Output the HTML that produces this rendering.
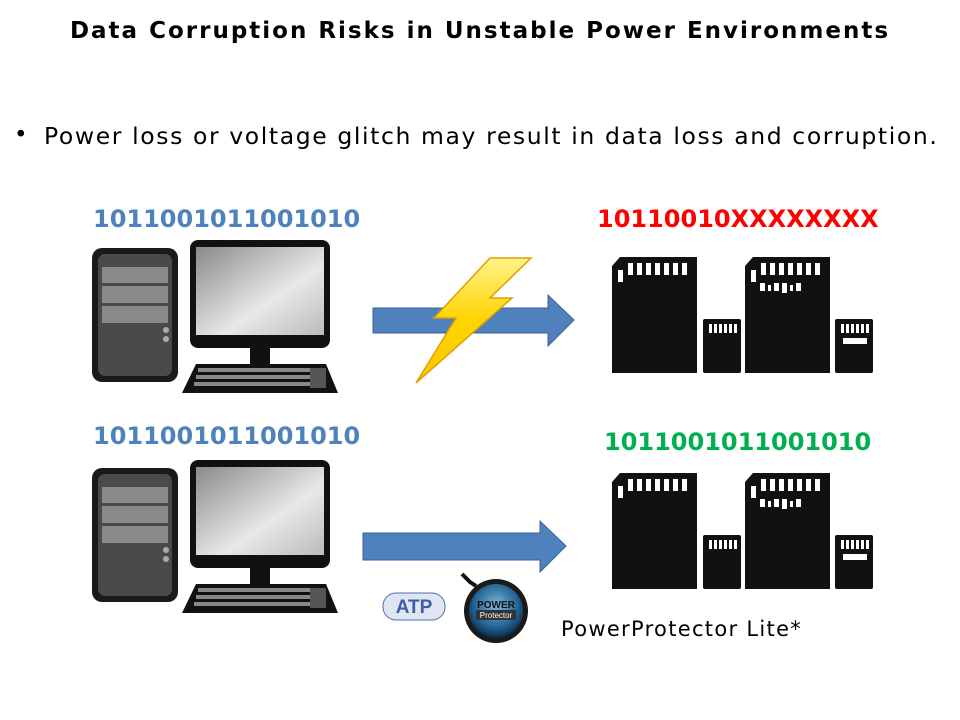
<!DOCTYPE html>
<html><head><meta charset="utf-8"><style>
body{margin:0;background:#fff;width:960px;height:720px;overflow:hidden;font-family:"DejaVu Sans",Verdana,sans-serif}
div{white-space:nowrap}
</style></head><body>
<svg width="960" height="720" xmlns="http://www.w3.org/2000/svg" style="position:absolute;left:0;top:0">
<defs>
<linearGradient id="scr" x1="0" y1="0" x2="1" y2="1"><stop offset="0" stop-color="#8a8a8a"/><stop offset="0.6" stop-color="#e8e8e8"/><stop offset="1" stop-color="#bbb"/></linearGradient>
<linearGradient id="bolt" x1="0" y1="0" x2="0" y2="1"><stop offset="0" stop-color="#fff38a"/><stop offset="0.5" stop-color="#ffd400"/><stop offset="1" stop-color="#ffc800"/></linearGradient>
<radialGradient id="pp" cx="0.5" cy="0.4" r="0.6"><stop offset="0" stop-color="#7fb8e0"/><stop offset="0.7" stop-color="#1f5f8f"/><stop offset="1" stop-color="#0b2a44"/></radialGradient>
<g id="pc">
  <rect x="92" y="248" width="86" height="134" rx="10" fill="#1a1a1a"/>
  <rect x="98" y="254" width="74" height="122" rx="7" fill="#4a4a4a"/>
  <rect x="102" y="267" width="66" height="16" fill="#8a8a8a"/>
  <rect x="102" y="286" width="66" height="17" fill="#8a8a8a"/>
  <rect x="102" y="306" width="66" height="17" fill="#8a8a8a"/>
  <circle cx="166" cy="330" r="3" fill="#aaa"/><circle cx="166" cy="339" r="3" fill="#aaa"/>
  <rect x="190" y="240" width="140" height="108" rx="8" fill="#111"/>
  <rect x="196" y="247" width="128" height="88" fill="url(#scr)"/>
  <rect x="250" y="346" width="20" height="20" fill="#111"/>
  <polygon points="196,364 326,364 338,393 182,393" fill="#111"/>
  <rect x="198" y="368" width="118" height="4" fill="#888"/>
  <rect x="196" y="375" width="122" height="4" fill="#888"/>
  <rect x="194" y="382" width="126" height="4" fill="#888"/>
  <rect x="310" y="368" width="16" height="20" fill="#555"/>
</g>
<g id="cards" fill="#111">
  <polygon points="620,257 697,257 697,373 612,373 612,266"/>
  <g fill="#fff"><rect x="628" y="263" width="5" height="12"/><rect x="637" y="263" width="5" height="12"/><rect x="646" y="263" width="5" height="12"/><rect x="655" y="263" width="5" height="12"/><rect x="664" y="263" width="5" height="12"/><rect x="673" y="263" width="5" height="12"/><rect x="682" y="263" width="5" height="12"/><rect x="618" y="270" width="5" height="12"/></g>
  <rect x="703" y="319" width="38" height="54" rx="2"/>
  <g fill="#fff"><rect x="709" y="324" width="3" height="9"/><rect x="714" y="324" width="3" height="9"/><rect x="719" y="324" width="3" height="9"/><rect x="724" y="324" width="3" height="9"/><rect x="729" y="324" width="3" height="9"/><rect x="734" y="324" width="3" height="9"/></g>
  <polygon points="753,257 830,257 830,373 745,373 745,266"/>
  <g fill="#fff"><rect x="761" y="263" width="5" height="12"/><rect x="770" y="263" width="5" height="12"/><rect x="779" y="263" width="5" height="12"/><rect x="788" y="263" width="5" height="12"/><rect x="797" y="263" width="5" height="12"/><rect x="806" y="263" width="5" height="12"/><rect x="815" y="263" width="5" height="12"/><rect x="751" y="270" width="5" height="12"/><rect x="760" y="283" width="5" height="8"/><rect x="768" y="285" width="3" height="6"/><rect x="774" y="283" width="5" height="8"/><rect x="782" y="283" width="5" height="10"/><rect x="790" y="285" width="3" height="6"/><rect x="796" y="283" width="5" height="8"/></g>
  <rect x="835" y="319" width="38" height="54" rx="2"/>
  <g fill="#fff"><rect x="841" y="324" width="3" height="9"/><rect x="846" y="324" width="3" height="9"/><rect x="851" y="324" width="3" height="9"/><rect x="856" y="324" width="3" height="9"/><rect x="861" y="324" width="3" height="9"/><rect x="866" y="324" width="3" height="9"/><rect x="843" y="338" width="24" height="6"/></g>
</g>
</defs>
<use href="#pc"/>
<use href="#pc" transform="translate(0,220)"/>
<use href="#cards"/>
<use href="#cards" transform="translate(0,216)"/>
<polygon points="373,308 548,308 548,295 574,320 548,346 548,333 373,333" fill="#4f81bd" stroke="#3a6494" stroke-width="1"/>
<polygon points="490,258 531,258 490,298 512,298 416,383 456,318 434,318" fill="url(#bolt)" stroke="#e0a000" stroke-width="1.5"/>
<polygon points="363,533 540,533 540,521 566,546 540,572 540,560 363,560" fill="#4f81bd" stroke="#3a6494" stroke-width="1"/>
<rect x="383" y="593" width="62" height="27" rx="13" fill="#dfe6f2" stroke="#4a6fb0"/>
<text x="414" y="613" text-anchor="middle" font-family="Liberation Sans" font-weight="bold" font-size="19" fill="#3a5fa8">ATP</text>
<circle cx="496" cy="611" r="32" fill="#1a1a1a"/>
<circle cx="496" cy="611" r="27" fill="url(#pp)"/>
<text x="496" y="608" text-anchor="middle" font-family="Liberation Sans" font-weight="bold" font-size="10" fill="#111">POWER</text>
<rect x="476" y="610" width="40" height="10" fill="#333"/>
<text x="496" y="618" text-anchor="middle" font-family="Liberation Sans" font-size="8" fill="#fff">Protector</text>
<path d="M462 574 l8 8 l6 4" stroke="#111" stroke-width="4" fill="none"/>
</svg>
<div style="position:absolute;left:0;top:18px;width:960px;text-align:center;font-weight:bold;font-size:23px;letter-spacing:2px">Data Corruption Risks in Unstable Power Environments</div>
<div style="position:absolute;left:14px;top:122px;font-size:23px">•</div>
<div style="position:absolute;left:44px;top:122px;font-size:23.5px;letter-spacing:1.6px">Power loss or voltage glitch may result in data loss and corruption.</div>
<div style="position:absolute;left:93px;top:205px;font-size:24px;font-weight:bold;color:#4f81bd">1011001011001010</div>
<div style="position:absolute;left:597px;top:205px;font-size:24px;font-weight:bold;color:#ff0000">10110010XXXXXXXX</div>
<div style="position:absolute;left:93px;top:422px;font-size:24px;font-weight:bold;color:#4f81bd">1011001011001010</div>
<div style="position:absolute;left:604px;top:428px;font-size:24px;font-weight:bold;color:#00b050">1011001011001010</div>
<div style="position:absolute;left:561px;top:617px;font-size:21px;letter-spacing:1.3px">PowerProtector Lite*</div>
</body></html>
